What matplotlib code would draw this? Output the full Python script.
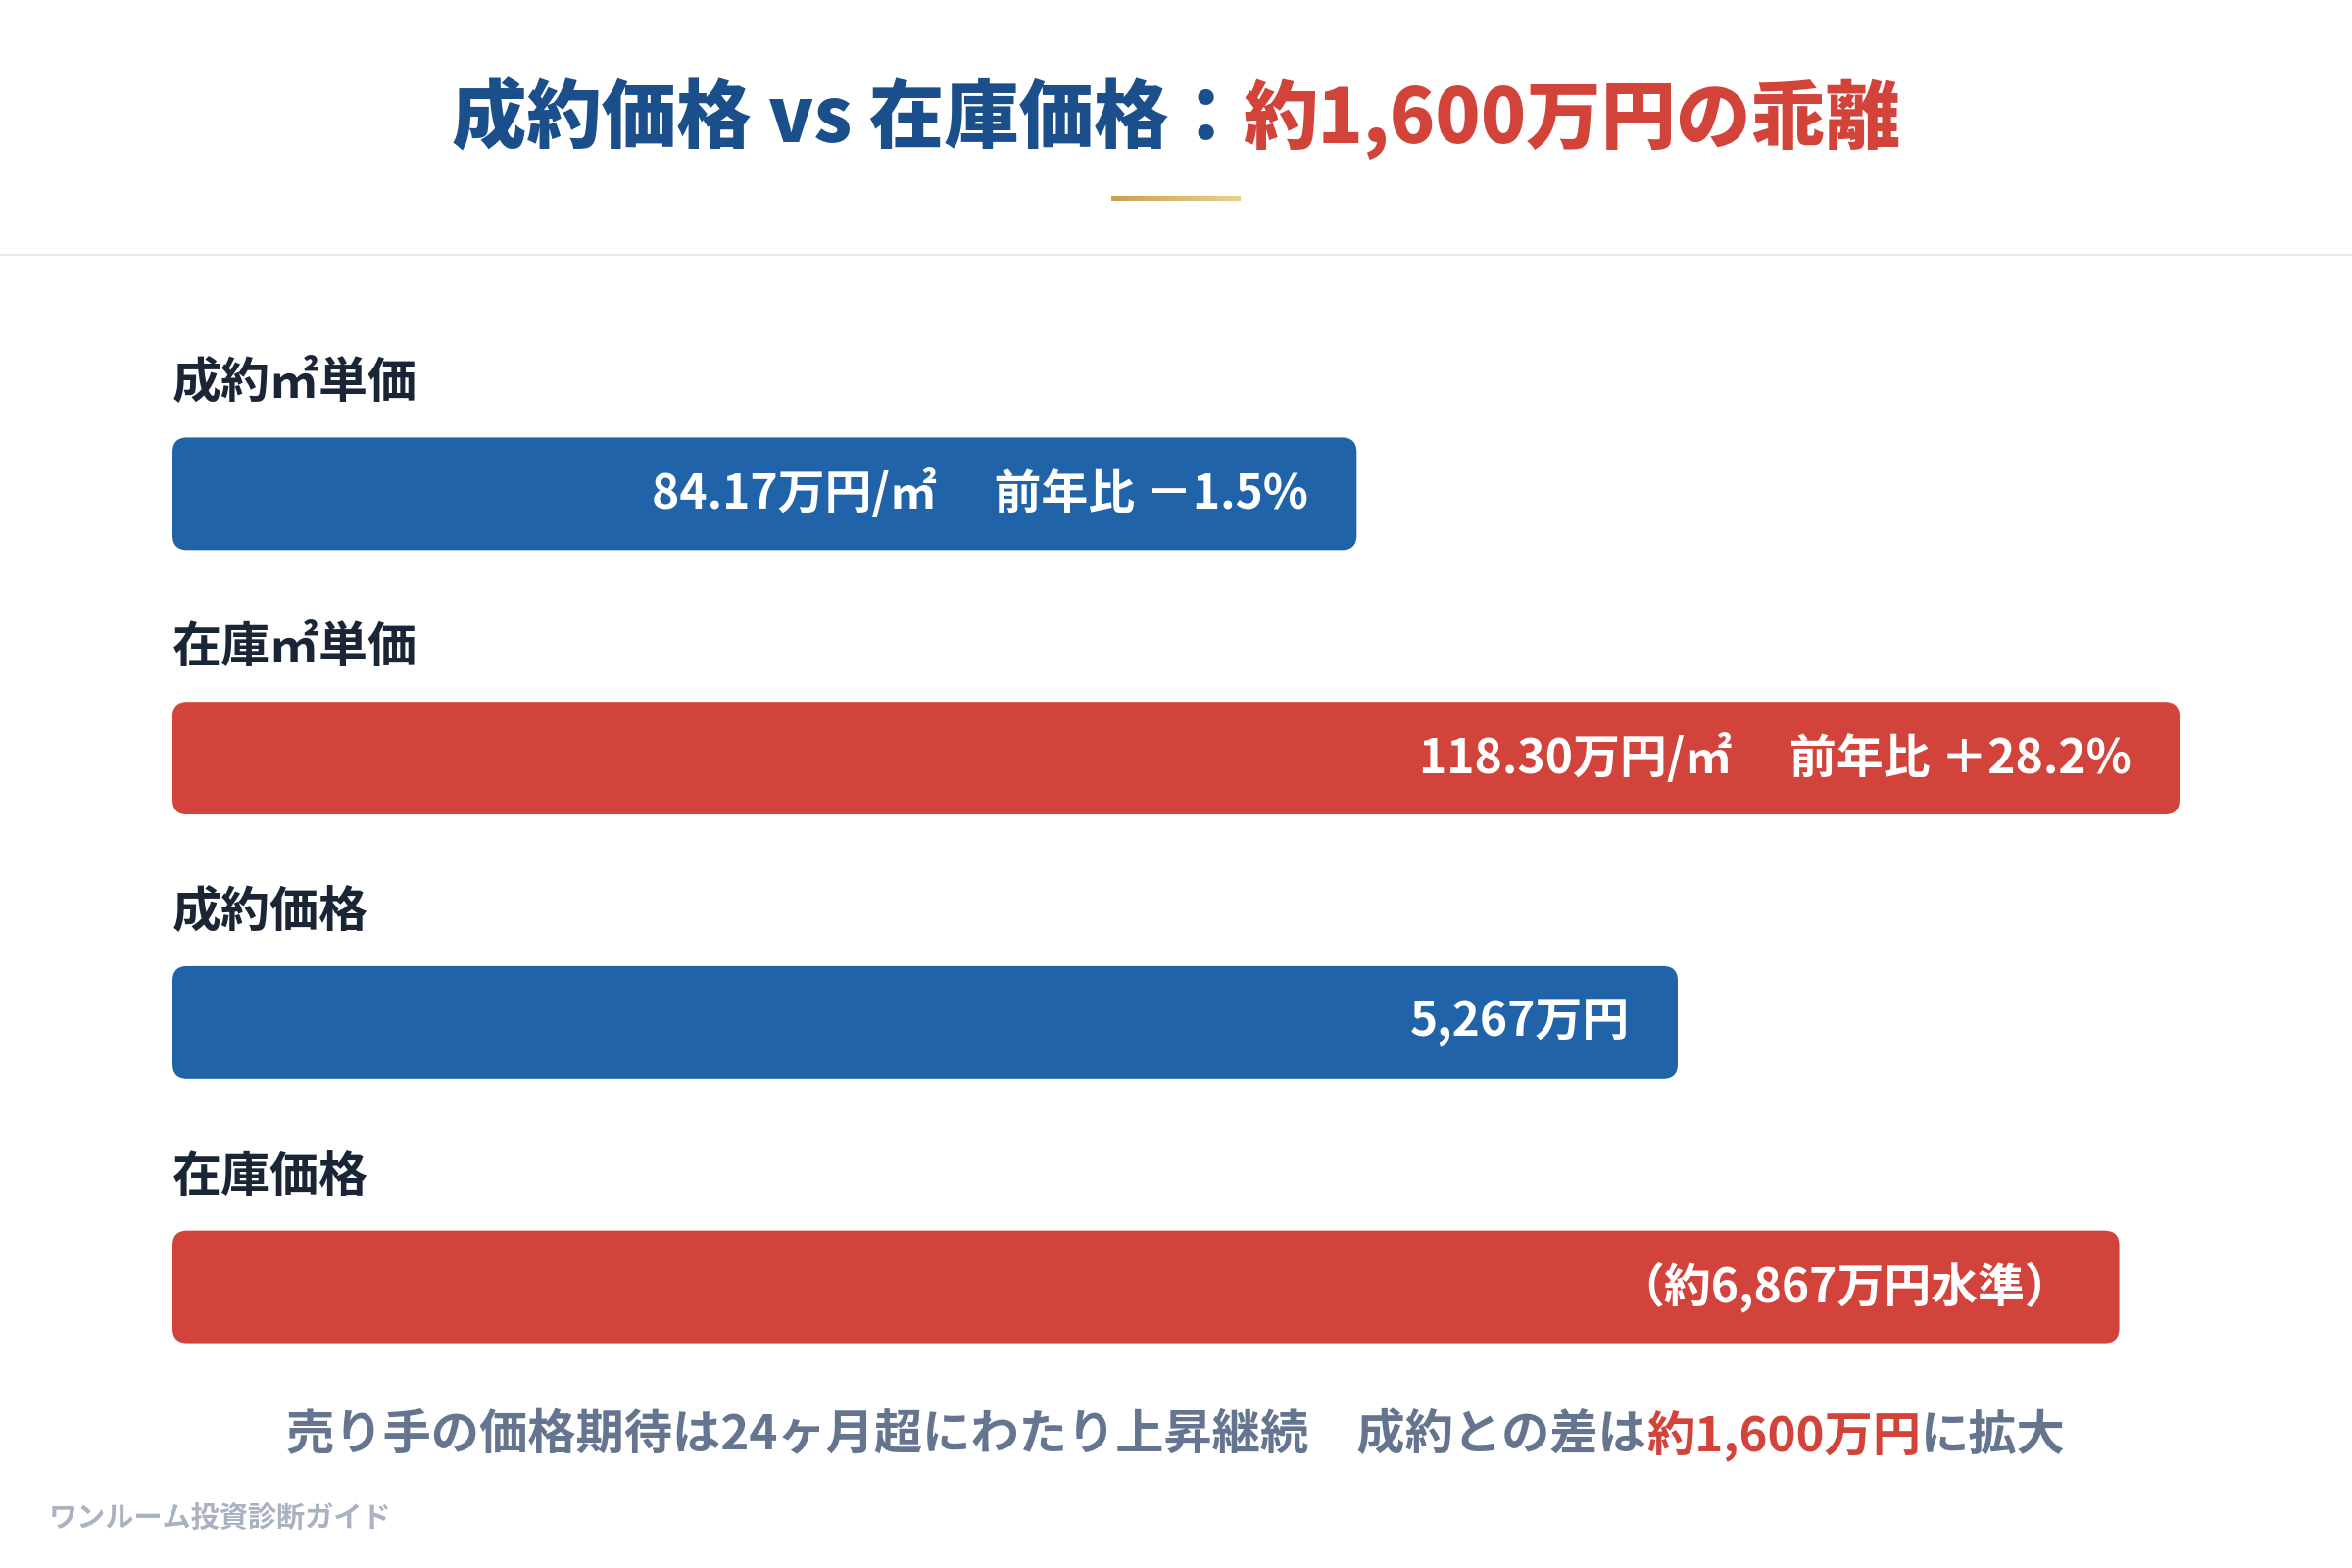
import matplotlib
matplotlib.use("Agg")
import numpy as np
import matplotlib.pyplot as plt
from matplotlib.patches import FancyBboxPatch
from matplotlib.colors import LinearSegmentedColormap

plt.rcParams['font.family'] = ['Noto Sans CJK JP', 'DejaVu Sans']

# --- データ ---
labels = ["成約㎡単価", "在庫㎡単価", "成約価格", "在庫価格"]
bar_texts = ["84.17万円/㎡　 前年比 －1.5%",
             "118.30万円/㎡　 前年比 ＋28.2%",
             "5,267万円",
             "（約6,867万円水準）"]
bar_pct = [59, 100, 75, 97]          # バーの長さ（トラック幅に対する%）
bar_kind = ["contract", "stock", "contract", "stock"]

title_parts = [("成約価格 vs 在庫価格：", "#1A4F8B"), ("約1,600万円の乖離", "#D2433A")]
note_parts = [("売り手の価格期待は24ヶ月超にわたり上昇継続　成約との差は", "#66758F"),
              ("約1,600万円", "#D2433A"), ("に拡大", "#66758F")]
footer = "ワンルーム投資診断ガイド"

COLORS = {"contract": "#2163A8", "stock": "#D2443B"}
LABEL_COLOR = "#1A2536"

W, H = 2400, 1600
fig = plt.figure(figsize=(24, 16), dpi=100)
fig.patch.set_facecolor("white")
renderer = fig.canvas.get_renderer()


def multicolor_text(parts, x_center, y, size, weight):
    '''色の違う文字列を横に並べて中央揃えで描く'''
    texts = []
    widths = []
    for s, c in parts:
        t = fig.text(0, y, s, color=c, fontsize=size, fontweight=weight,
                     ha="left", va="center")
        bb = t.get_window_extent(renderer=renderer)
        texts.append(t)
        widths.append(bb.width / W)
    total = sum(widths)
    x = x_center - total / 2
    for t, w in zip(texts, widths):
        t.set_x(x)
        x += w


# タイトル
multicolor_text(title_parts, 0.5, 1 - 122 / H, 55, "heavy")

# 金色のアンダーライン
gold = LinearSegmentedColormap.from_list("gold", ["#C9A24F", "#E8D190"])
ax_g = fig.add_axes([1134 / W, 1 - 205 / H, 132 / W, 5 / H])
ax_g.imshow(np.linspace(0, 1, 100).reshape(1, -1), cmap=gold, aspect="auto")
ax_g.axis("off")

# 区切り線
fig.add_artist(plt.Line2D([0, 1], [1 - 260 / H, 1 - 260 / H], color="#E6E8EC", lw=1.5))

# バー
ax = fig.add_axes([176 / W, 1 - 1448 / H, 2048 / W, (1448 - 369) / H])
ax.set_xlim(0, 100)
ax.set_ylim(3.5, -0.5)
ax.axis("off")

bar_h = 0.426
px_x = 2048 / 100
px_y = (1448 - 369) / 4
for i, (lab, txt, pct, kind) in enumerate(zip(labels, bar_texts, bar_pct, bar_kind)):
    r = 15 / px_x
    patch = FancyBboxPatch((0, i - bar_h / 2), pct, bar_h,
                           boxstyle=f"round,pad=0,rounding_size={r}",
                           mutation_aspect=px_x / px_y,
                           fc=COLORS[kind], ec="none")
    ax.add_patch(patch)
    ax.annotate(txt, xy=(pct, i), xytext=(-49, 0), textcoords="offset pixels",
                ha="right", va="center", color="white", fontsize=34.5, fontweight="bold")
    ax.text(0, i - 0.415, lab, ha="left", va="center", color=LABEL_COLOR,
            fontsize=36, fontweight="bold")

# 注記
multicolor_text(note_parts, 0.5, 1 - 1465 / H, 35.5, "bold")

# フッター
fig.text(50 / W, 1 - 1549 / H, footer, color="#A9B2C2", fontsize=21,
         fontweight="bold", ha="left", va="center")

fig.savefig("out.png", dpi=100, facecolor="white")
